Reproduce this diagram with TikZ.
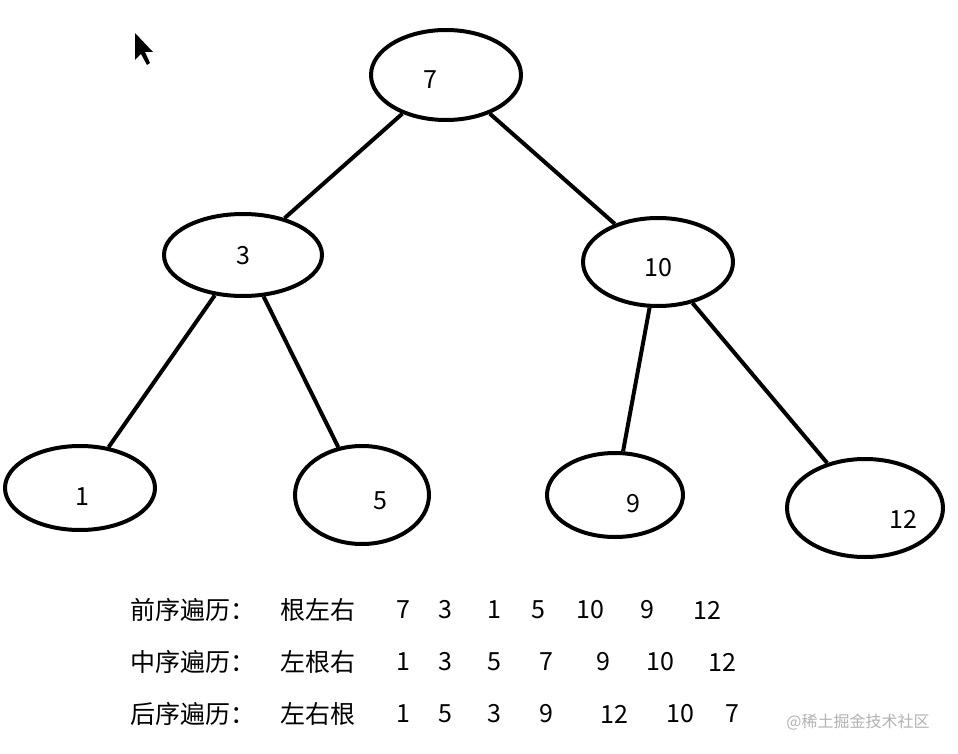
\documentclass[tikz,border=0pt]{standalone}
\usepackage{fontspec}
\setmainfont{Noto Sans CJK SC}
\usetikzlibrary{shapes.geometric}
\begin{document}
\begin{tikzpicture}[x=1pt,y=-1pt,
  tn/.style={draw,line width=4pt,ellipse,inner sep=0pt},
  ed/.style={line width=4pt},
  lbl/.style={font=\fontsize{25}{25}\selectfont,anchor=west,inner sep=0pt},
  num/.style={font=\fontsize{25}{25}\selectfont,inner sep=0pt}]
\useasboundingbox[fill=white] (0,0) rectangle (958,754);
\node[tn,minimum width=150pt,minimum height=90pt] (n7) at (446,75) {};
\node[num] at (430,80) {7};
\node[tn,minimum width=158pt,minimum height=82pt] (n3) at (243,255) {};
\node[num] at (243,256) {3};
\node[tn,minimum width=150pt,minimum height=88pt] (n10) at (658,262) {};
\node[num] at (658,268) {10};
\node[tn,minimum width=150pt,minimum height=84pt] (n1) at (80,488) {};
\node[num] at (82,497) {1};
\node[tn,minimum width=134pt,minimum height=98pt] (n5) at (362,495) {};
\node[num] at (380,501) {5};
\node[tn,minimum width=136pt,minimum height=84pt] (n9) at (615,495) {};
\node[num] at (633,504) {9};
\node[tn,minimum width=156pt,minimum height=98pt] (n12) at (865,508) {};
\node[num] at (903,519) {12};
\draw[ed] (n7) -- (n3);
\draw[ed] (n7) -- (n10);
\draw[ed] (n3) -- (n1);
\draw[ed] (n3) -- (n5);
\draw[ed] (n10) -- (n9);
\draw[ed] (n10) -- (n12);
\fill (135,33) -- (135,60) -- (141,54) -- (147,65) -- (150,63) -- (145,52) -- (153,52) -- cycle;
\foreach \y/\a/\b/\l in {610/前序遍历：/根左右/{403/7,445/3,494/1,538/5,590/10,647/9,707/12},
  662/中序遍历：/左根右/{403/1,445/3,494/5,546/7,603/9,660/10,722/12},
  714/后序遍历：/左右根/{403/1,445/5,494/3,546/9,614/12,680/10,732/7}}{
  \node[lbl] at (130,\y) {\a};
  \node[lbl] at (280,\y) {\b};
  \foreach \x/\t in \l { \node[num] at (\x,\y) {\t}; }
}
\node[font=\fontsize{16}{16}\selectfont,text=gray!60,inner sep=0pt] (wm) at (858,722) {@稀土掘金技术社区};
\end{tikzpicture}
\end{document}
